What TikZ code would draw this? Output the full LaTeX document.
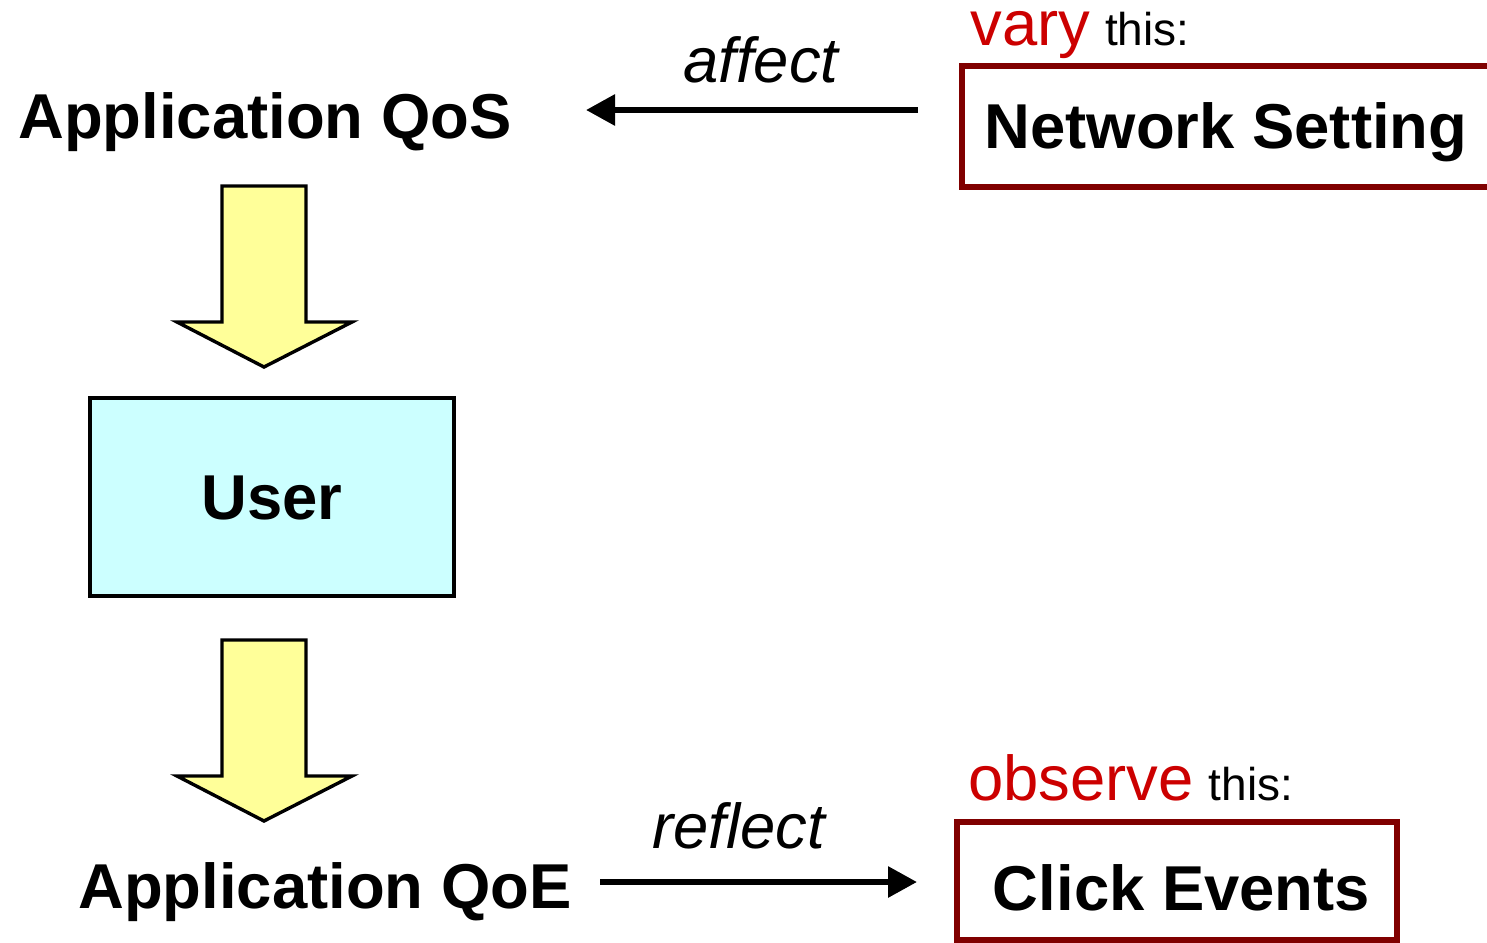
\documentclass[tikz,border=0pt]{standalone}
\usepackage{fontspec}
\setmainfont{Liberation Sans}
\usetikzlibrary{arrows.meta}
\definecolor{boxred}{RGB}{128,0,0}
\definecolor{wordred}{RGB}{204,0,0}
\definecolor{paleyellow}{RGB}{255,255,153}
\definecolor{palecyan}{RGB}{204,255,255}
\newcommand{\bigsize}{\fontsize{31.7}{38}\selectfont}
\newcommand{\smallsize}{\fontsize{23}{28}\selectfont}

\begin{document}
\begin{tikzpicture}[x=0.5pt,y=-0.5pt,
	headtext/.style={anchor=base west, inner sep=0pt, font=\bigsize\bfseries},
	verbtext/.style={anchor=base west, inner sep=0pt, font=\bigsize\itshape},
	hinttext/.style={anchor=base west, inner sep=0pt, font=\bigsize},
	redbox/.style={draw=boxred, line width=3pt, inner sep=0pt, text height=22.7pt, text depth=0pt, font=\bigsize\bfseries},
	flow/.style={line width=3pt, -{Triangle[length=14.5pt,width=15pt]}},
	blockarrow/.style={fill=paleyellow, draw=black, line width=1.7pt, line join=miter}]
	\useasboundingbox (0,0) rectangle (1487,942);

	\node[headtext] (qos) at (18,138) {Application QoS};
	\node[headtext] (qoe) at (78,908) {Application QoE};

	\node[draw, line width=1.7pt, fill=palecyan, minimum width=182pt, minimum height=99pt, inner sep=0pt, text height=22.7pt, text depth=0pt, font=\bigsize\bfseries] (user) at (272,497) {User};

	\filldraw[blockarrow] (222,186) -- (306,186) -- (306,322) -- (352,322) -- (264,367) -- (177,322) -- (222,322) -- cycle;
	\filldraw[blockarrow] (222,640) -- (306,640) -- (306,776) -- (352,776) -- (264,821) -- (177,776) -- (222,776) -- cycle;

	\node[redbox, minimum width=264pt, minimum height=60.5pt] (net) at (1226,126) {Network Setting};
	\node[redbox, minimum width=220pt, minimum height=59pt, text height=29pt] (click) at (1177,881) {\hspace{4.5pt}Click Events};

	\node[hinttext] (vary) at (970,46) {{\color{wordred}vary}\hspace{7.5pt}{\smallsize this:}};
	\node[hinttext] (observe) at (968,800) {{\color{wordred}observe}\hspace{7.5pt}{\smallsize this:}};

	\node[verbtext] (affect) at (683,82) {affect};
	\node[verbtext] (reflect) at (652,848) {reflect};

	\coordinate (affS) at (918,110);
	\coordinate (affE) at (586,110);
	\coordinate (refS) at (600,882);
	\coordinate (refE) at (917,882);
	\draw[flow] (affS) -- (affE);
	\draw[flow] (refS) -- (refE);

\end{tikzpicture}
\end{document}
